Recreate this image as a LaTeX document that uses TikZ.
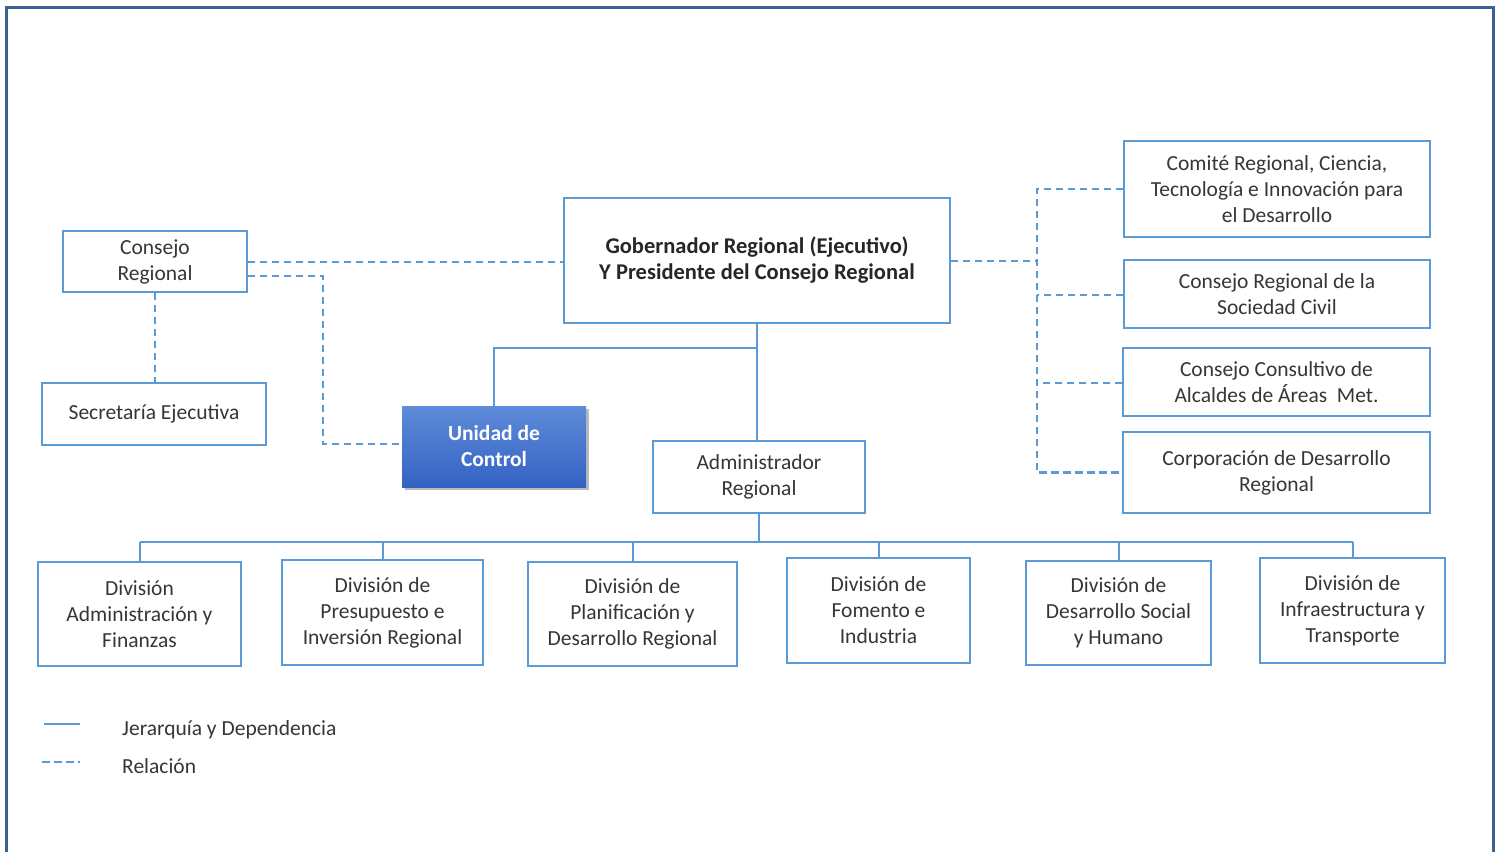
\documentclass[tikz,border=0pt]{standalone}
\usepackage{fontspec}
\setmainfont{Carlito}
\usetikzlibrary{shadows}
\definecolor{ln}{HTML}{5B9BD5}
\definecolor{frm}{HTML}{3A6194}
\definecolor{txt}{HTML}{363636}
\definecolor{uctop}{HTML}{5F8BD9}
\definecolor{ucbot}{HTML}{3462C3}
\begin{document}
\begin{tikzpicture}[x=1pt,y=-1pt,
  box/.style={draw=ln, line width=1.8pt, fill=white, align=center, text=txt,
    font=\fontsize{21.5}{26}\selectfont, inner sep=0pt},
  hier/.style={draw=ln, line width=2pt},
  rel/.style={draw=ln, line width=2.4pt, dash pattern=on 7.5pt off 4.5pt},
  legtext/.style={text=txt, font=\fontsize{21.5}{26}\selectfont, anchor=west, inner sep=0pt}]
\useasboundingbox (0,0) rectangle (1499,852);
\fill[white] (0,0) rectangle (1499,852);
% frame
\draw[frm, line width=3pt] (6.5,852) -- (6.5,7.5) -- (1493.5,7.5) -- (1493.5,852);

% nodes
\node[box, minimum width=386pt, minimum height=125pt, text=black!85,
  font=\fontsize{22.5}{26}\selectfont\bfseries] (gob) at (757,260.5)
  {Gobernador Regional (Ejecutivo)\\Y Presidente del Consejo Regional};
\node[box, minimum width=184pt, minimum height=61pt] (cr) at (155,261.5) {Consejo\\Regional};
\node[box, minimum width=224pt, minimum height=62pt] (sec) at (154,414) {Secretaría Ejecutiva};
\node[draw=none, top color=uctop, bottom color=ucbot, minimum width=184pt, minimum height=81pt,
  align=center, text=white, font=\fontsize{21.5}{26}\selectfont\bfseries, inner sep=0pt,
  drop shadow={shadow xshift=3pt, shadow yshift=-3pt, fill=black!45, opacity=0.6}] (uc) at (494,446.5)
  {Unidad de\\Control};
\node[box, minimum width=212pt, minimum height=72pt] (adm) at (759,477) {Administrador\\Regional};

\node[box, minimum width=306pt, minimum height=96pt] (com) at (1277,189)
  {Comité Regional, Ciencia,\\Tecnología e Innovación para\\el Desarrollo};
\node[box, minimum width=306pt, minimum height=68pt] (csc) at (1277,294)
  {Consejo Regional de la\\Sociedad Civil};
\node[box, minimum width=307pt, minimum height=68pt] (cca) at (1276.5,382)
  {Consejo Consultivo de\\Alcaldes de Áreas\ \ Met.};
\node[box, minimum width=307pt, minimum height=81pt] (cor) at (1276.5,472.5)
  {Corporación de Desarrollo\\Regional};

\node[box, minimum width=203pt, minimum height=104pt] (d1) at (139.5,614)
  {División\\Administración y\\Finanzas};
\node[box, minimum width=201pt, minimum height=105pt] (d2) at (382.5,612.5)
  {División de\\Presupuesto e\\Inversión Regional};
\node[box, minimum width=209pt, minimum height=104pt] (d3) at (632.5,614)
  {División de\\Planificación y\\Desarrollo Regional};
\node[box, minimum width=183pt, minimum height=105pt] (d4) at (878.5,610.5)
  {División de\\Fomento e\\Industria};
\node[box, minimum width=185pt, minimum height=104pt] (d5) at (1118.5,613)
  {División de\\Desarrollo Social\\y Humano};
\node[box, minimum width=185pt, minimum height=105pt] (d6) at (1352.5,610.5)
  {División de\\Infraestructura y\\Transporte};

% coordinates
\coordinate (rb) at (1037,261);
\coordinate (br) at (757,348);
\coordinate (hb) at (759,542);
\coordinate (lk) at (323,276);

% relation (dashed)
\draw[rel] (cr.east |- 0,262) -- (gob.west |- 0,262);
\draw[rel] ([yshift=-14.5pt]cr.east) -- (lk) |- (uc.west |- 0,444);
\draw[rel] (cr.south) -- (cr.south |- sec.north);
\draw[rel] (gob.east |- rb) -- (rb);
\draw[rel] (com.west) -| (rb) |- (cor.west);
\draw[rel] (csc.west |- 0,295) -- (rb |- 0,295);
\draw[rel] (cca.west |- 0,383) -- (rb |- 0,383);

% hierarchy (solid)
\draw[hier] (gob.south) -- (gob.south |- adm.north);
\draw[hier] (br) -| (uc.north);
\draw[hier] (adm.south) -- (hb);
\draw[hier] (d1.north |- hb) -- (d6.north |- hb);
\foreach \d in {d1,d2,d3,d4,d5,d6} \draw[hier] (\d.north) -- (\d.north |- hb);

% legend
\coordinate (la) at (44,724);
\coordinate (lb) at (42,762);
\draw[hier] (la) -- ++(36,0);
\draw[rel] (lb) -- ++(38,0);
\node[legtext] (lt1) at (122,730) {Jerarquía y Dependencia};
\node[legtext] (lt2) at (122,766) {Relación};
\end{tikzpicture}
\end{document}
